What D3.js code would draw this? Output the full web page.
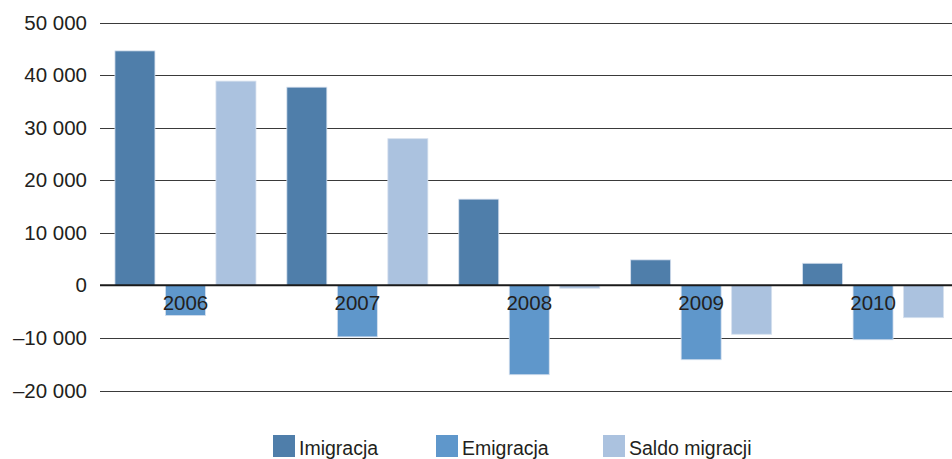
<!DOCTYPE html>
<html>
<head>
<meta charset="utf-8">
<script src="https://cdn.jsdelivr.net/npm/d3@7"></script>
<style>
  body { margin: 0; background: #fff; }
  text { font-family: "Liberation Sans", Arial, sans-serif; fill: #231f20; }
</style>
</head>
<body>
<script>
var years = ["2006", "2007", "2008", "2009", "2010"];
var series = ["Imigracja", "Emigracja", "Saldo migracji"];
var imigracja = [44600, 37700, 16400, 4850, 4200];
var emigracja = [-5750, -9800, -17000, -14150, -10350];
var saldo = [38850, 27900, -550, -9300, -6150];
var yTicks = [50000, 40000, 30000, 20000, 10000, 0, -10000, -20000];

var w = 952, h = 459;
var colors = ["#4f7eaa", "#5f97cb", "#abc2df"];

var svg = d3.select("body").append("svg").attr("width", w).attr("height", h);

// plot area runs a bit past the right edge of the picture
var x0 = d3.scaleBand().domain(years).range([99.5, 959]).paddingInner(0).paddingOuter(0);
var x1 = d3.scaleBand().domain(series)
    .range([x0.bandwidth() / 2 - 70.5, x0.bandwidth() / 2 + 70.5])
    .paddingInner(0.208).paddingOuter(0);
var y = d3.scaleLinear().domain([-20000, 50000]).range([390.5, 22.5]);

var fmt = function (v) {
    var s = d3.format(",")(Math.abs(v)).replace(/,/g, " ");
    return (v < 0 ? "\u2013" : "") + s;
};

// grid
var grid = svg.append("g");
grid.selectAll("line")
    .data(yTicks.filter(d => d != 0))
    .enter().append("line")
    .attr("x1", 100).attr("x2", 952)
    .attr("y1", d => Math.round(y(d)) + 0.5).attr("y2", d => Math.round(y(d)) + 0.5)
    .attr("stroke", "#3a3a3a").attr("stroke-width", 1.2);

var yAxis = d3.axisLeft(y).tickValues(yTicks).tickFormat(fmt).tickSize(0).tickPadding(13);
var yArea = svg.append("g").attr("transform", "translate(100,0)").call(yAxis);
yArea.select(".domain").remove();
yArea.selectAll("text").style("font-size", "20.5px").attr("fill", "#231f20");

var data = years.map((yr, i) => ({
    year: yr,
    vals: [imigracja[i], emigracja[i], saldo[i]].map((v, j) => ({ s: series[j], v: v, j: j }))
}));

var slice = svg.selectAll(".slice")
    .data(data)
    .enter().append("g")
    .attr("class", "slice")
    .attr("transform", d => "translate(" + x0(d.year) + ",0)");

slice.selectAll("rect")
    .data(d => d.vals)
    .enter().append("rect")
    .attr("x", d => x1(d.s))
    .attr("width", x1.bandwidth())
    .attr("y", d => y(Math.max(0, d.v)))
    .attr("height", d => Math.abs(y(d.v) - y(0)))
    .attr("fill", d => colors[d.j])
    .attr("stroke", "#d6e0ee")
    .attr("stroke-width", 0.8);

// zero line
svg.append("line")
    .attr("x1", 100).attr("x2", 952)
    .attr("y1", y(0)).attr("y2", y(0))
    .attr("stroke", "#1a1a1a").attr("stroke-width", 2);

// category labels
var xAxis = d3.axisBottom(x0).tickSize(0).tickPadding(10);
var xArea = svg.append("g").attr("transform", "translate(0," + y(0) + ")").call(xAxis);
xArea.select(".domain").remove();
xArea.selectAll("text").style("font-size", "20.5px").attr("fill", "#231f20");

// legend
var legendX = [273, 436, 603];
var legend = svg.selectAll(".legend")
    .data(series)
    .enter().append("g")
    .attr("class", "legend")
    .attr("transform", (d, i) => "translate(" + legendX[i] + ",435)");
legend.append("rect").attr("width", 22).attr("height", 22).attr("fill", (d, i) => colors[i]);
legend.append("text").attr("x", 26).attr("y", 20).style("font-size", "19.5px").text(d => d);
</script>
</body>
</html>
